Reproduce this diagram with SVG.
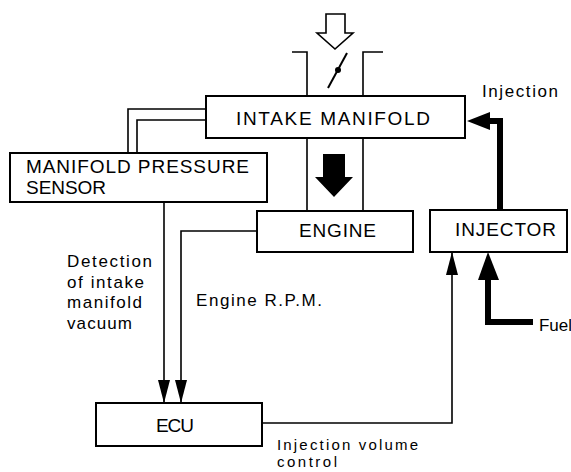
<svg xmlns="http://www.w3.org/2000/svg" width="571" height="472" viewBox="0 0 571 472">
<defs>
<style>
.box{fill:#fff;stroke:#000;stroke-width:2}
.ln{fill:none;stroke:#000;stroke-width:1.6}
.thick{fill:none;stroke:#000;stroke-width:6;stroke-linejoin:miter}
.big{font-family:"Liberation Sans",Arial,sans-serif;font-size:19px;fill:#000}
.lab{font-family:"Liberation Sans",Arial,sans-serif;font-size:17px;fill:#000}
.sm{font-family:"Liberation Sans",Arial,sans-serif;font-size:15px;fill:#000}
</style>
<marker id="ah" viewBox="0 0 23 12" refX="23" refY="6" markerWidth="23" markerHeight="12" markerUnits="userSpaceOnUse" orient="auto">
<path d="M0,0 L23,6 L0,12 Z" fill="#000"/>
</marker>
</defs>
<rect width="571" height="472" fill="#fff"/>

<g id="throttle">
<path class="ln" d="M292,52 H307 V96 M383,52 H363 V96 M307,138 V211 M363,138 V211" stroke-width="2"/>
<line x1="328" y1="88" x2="347" y2="53" stroke="#000" stroke-width="2"/>
<circle cx="338" cy="70" r="3" fill="#000"/>
<polygon points="326,14 345,14 345,33 353,33 335,49 317,33 326,33" fill="#fff" stroke="#000" stroke-width="1.6"/>
<polygon points="323,154 345,154 345,177 353,177 334,197 315,177 323,177" fill="#000"/>
</g>

<g id="tube">
<path class="ln" d="M128,153 V109 H206 M137,153 V120 H206" stroke-width="2"/>
</g>

<g id="intake-manifold">
<rect class="box" x="206" y="96" width="259" height="42"/>
<text class="big" x="236" y="125" textLength="194" lengthAdjust="spacing">INTAKE MANIFOLD</text>
</g>

<g id="manifold-pressure-sensor">
<rect class="box" x="10" y="153" width="257" height="49"/>
<text class="big" x="26" y="173" textLength="223" lengthAdjust="spacing">MANIFOLD PRESSURE</text>
<text class="big" x="26" y="194" textLength="80" lengthAdjust="spacing">SENSOR</text>
</g>

<g id="engine">
<rect class="box" x="257" y="211" width="156" height="41"/>
<text class="big" x="299" y="237" textLength="77" lengthAdjust="spacing">ENGINE</text>
</g>

<g id="injector">
<rect class="box" x="430" y="210" width="137" height="42"/>
<text class="big" x="455" y="236" textLength="101" lengthAdjust="spacing">INJECTOR</text>
</g>

<g id="ecu">
<rect class="box" x="96" y="403" width="166" height="43"/>
<text class="big" x="156" y="432" textLength="38" lengthAdjust="spacing">ECU</text>
</g>

<g id="connectors">
<path class="ln" d="M164,202 V403" marker-end="url(#ah)"/>
<path class="ln" d="M257,231 H181 V403" marker-end="url(#ah)"/>
<path class="ln" d="M262,423 H452 V252" marker-end="url(#ah)"/>
<path class="thick" d="M500,210 V121 H488"/>
<polygon points="467,121 490,112 490,130" fill="#000"/>
<path class="thick" d="M533,322 H488 V278" stroke-width="7"/>
<polygon points="488,252 478,280 499,280" fill="#000"/>
</g>

<g id="labels">
<text class="lab" x="482" y="97" textLength="76" lengthAdjust="spacing">Injection</text>
<text class="lab" x="67" y="267" textLength="85" lengthAdjust="spacing">Detection</text>
<text class="lab" x="67" y="288" textLength="77" lengthAdjust="spacing">of intake</text>
<text class="lab" x="67" y="308" textLength="75" lengthAdjust="spacing">manifold</text>
<text class="lab" x="67" y="329" textLength="65" lengthAdjust="spacing">vacuum</text>
<text class="lab" x="196" y="306" textLength="126" lengthAdjust="spacing">Engine R.P.M.</text>
<text class="sm" x="277" y="450" textLength="141" lengthAdjust="spacing">Injection volume</text>
<text class="sm" x="277" y="467" textLength="60" lengthAdjust="spacing">control</text>
<text class="lab" x="539" y="331" textLength="33" lengthAdjust="spacing">Fuel</text>
</g>
</svg>
